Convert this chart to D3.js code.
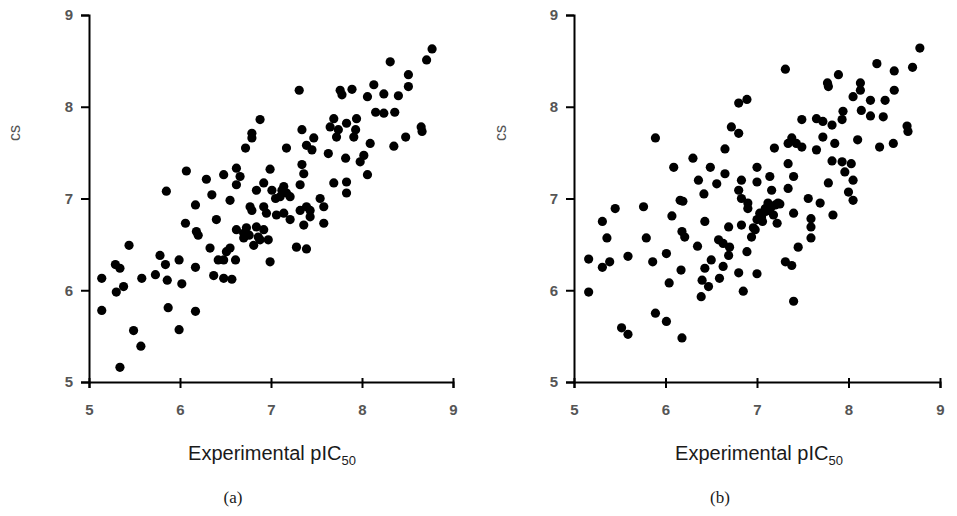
<!DOCTYPE html>
<html><head><meta charset="utf-8">
<script src="https://cdn.jsdelivr.net/npm/d3@7"></script>
<style>body{margin:0;background:#fff}svg{display:block}</style>
</head><body><svg id="c" width="957" height="516"></svg>
<script>
const tickValues = [5, 6, 7, 8, 9];
const xTitle = "Experimental pIC";
const xTitleSub = "50";
const yTitle = "cs";
const panelLabels = ["(a)", "(b)"];

const aX = [8.77,8.71,8.31,8.51,8.51,7.31,7.76,7.78,7.89,8.13,8.06,8.24,8.40,8.15,8.24,8.36,6.88,6.79,6.79,6.72,7.17,7.34,7.39,7.47,7.45,7.63,7.69,7.65,7.74,7.72,7.83,7.94,7.93,7.91,7.82,8.09,8.02,7.98,8.06,8.35,8.48,8.65,8.66,6.07,6.29,6.48,6.62,6.66,6.99,7.34,7.36,5.85,6.35,6.55,6.62,6.84,6.92,7.14,7.17,7.32,7.69,7.83,7.83,7.54,6.17,7.21,6.77,6.92,7.39,7.10,7.05,7.01,7.12,
6.40,6.06,6.18,6.20,6.79,6.95,7.06,7.14,7.21,7.43,7.58,7.58,7.36,7.43,6.62,6.73,6.84,6.92,6.70,6.81,6.88,6.97,6.55,6.51,6.33,6.42,6.48,6.61,6.99,7.28,7.39,6.37,6.48,6.57,5.14,5.29,5.34,5.44,5.30,5.38,5.58,5.73,5.78,5.84,5.86,5.99,6.17,6.02,5.14,5.87,6.17,5.49,5.99,5.57,5.34,7.32,6.70,6.76,6.86];
const aY = [8.63,8.51,8.49,8.35,8.22,8.18,8.18,8.13,8.19,8.24,8.11,8.14,8.12,7.94,7.93,7.94,7.86,7.71,7.66,7.55,7.55,7.75,7.58,7.66,7.53,7.49,7.87,7.78,7.75,7.67,7.82,7.87,7.75,7.67,7.44,7.60,7.47,7.40,7.26,7.57,7.67,7.78,7.73,7.30,7.21,7.26,7.33,7.24,7.32,7.37,7.27,7.08,7.04,6.98,7.15,7.09,7.17,7.13,7.06,7.15,7.17,7.18,7.06,7.00,6.93,7.02,6.91,6.91,6.91,7.02,7.00,7.09,7.09,
6.77,6.73,6.64,6.60,6.87,6.84,6.82,6.84,6.77,6.87,6.91,6.73,6.71,6.80,6.66,6.68,6.69,6.66,6.57,6.49,6.55,6.55,6.46,6.42,6.46,6.33,6.33,6.33,6.31,6.47,6.45,6.16,6.13,6.12,6.13,6.28,6.24,6.49,5.98,6.04,6.13,6.17,6.38,6.28,6.11,6.33,6.25,6.07,5.78,5.81,5.77,5.56,5.57,5.39,5.16,6.87,6.62,6.60,6.58];

const bX = [8.78,8.31,8.50,8.70,7.31,7.89,7.77,7.78,8.13,8.13,8.50,8.05,8.24,8.40,6.80,6.89,7.94,8.14,8.24,8.38,7.49,7.65,7.72,7.82,7.93,6.72,6.80,5.89,8.64,8.65,8.49,8.34,8.10,7.85,7.72,7.65,7.38,7.43,7.49,7.34,7.19,6.65,6.30,6.09,6.49,6.65,6.36,6.56,7.00,7.34,7.14,7.40,7.16,7.34,6.83,7.00,6.80,6.83,6.90,7.12,7.23,7.78,7.82,7.93,8.03,7.96,8.05,8.00,8.05,7.56,7.69,6.16,6.42,5.76,5.45,
5.16,5.16,5.31,5.36,5.31,5.39,5.59,5.79,5.86,5.89,6.01,6.04,6.01,5.52,5.59,6.18,6.17,6.07,6.19,6.18,6.21,6.35,6.43,6.43,6.50,6.40,6.47,6.39,6.59,6.63,6.58,6.63,6.70,6.69,6.69,6.80,6.85,6.89,6.83,7.00,6.94,6.96,7.00,7.03,7.09,7.20,7.25,7.22,6.90,7.40,7.31,7.38,7.40,7.45,7.59,7.59,7.59,7.83,6.98,7.05,7.10,7.15,7.18,7.06];
const bY = [8.64,8.47,8.39,8.43,8.41,8.35,8.26,8.22,8.26,8.18,8.18,8.11,8.07,8.07,8.04,8.08,7.95,7.96,7.90,7.89,7.86,7.87,7.84,7.80,7.86,7.78,7.71,7.66,7.79,7.73,7.60,7.56,7.64,7.60,7.67,7.53,7.66,7.60,7.56,7.60,7.55,7.54,7.44,7.34,7.34,7.27,7.20,7.16,7.34,7.38,7.24,7.24,7.09,7.11,7.20,7.18,7.09,7.00,6.95,6.95,6.95,7.17,7.41,7.40,7.38,7.29,7.20,7.07,6.98,7.00,6.95,6.98,7.05,6.91,6.89,
6.34,5.98,6.75,6.57,6.25,6.31,6.37,6.57,6.31,5.75,6.40,6.08,5.66,5.59,5.52,5.48,6.22,6.81,6.97,6.64,6.58,6.48,6.75,6.24,6.33,6.11,6.04,5.93,6.13,6.26,6.55,6.51,6.47,6.38,6.69,6.19,5.99,6.42,6.71,6.18,6.58,6.68,6.77,6.84,6.89,6.93,6.94,6.73,6.89,6.84,6.31,6.27,5.88,6.47,6.78,6.69,6.57,6.82,6.66,6.80,6.86,6.90,6.82,6.75];

const svg = d3.select("#c");
const panels = [
  {xs: aX, ys: aY, x0: 89, x1: 453, label: panelLabels[0], titleX: 272, labelX: 233, yLabX: 14},
  {xs: bX, ys: bY, x0: 574, x1: 940, label: panelLabels[1], titleX: 759, labelX: 720, yLabX: 500}
];
const yTop = 15, yBot = 382;
const sans = "Liberation Sans, Arial, sans-serif";

panels.forEach(p => {
  const x = d3.scaleLinear().domain([5, 9]).range([p.x0, p.x1]);
  const y = d3.scaleLinear().domain([5, 9]).range([yBot, yTop]);
  const g = svg.append("g");

  g.append("g").selectAll("circle").data(d3.range(p.xs.length)).join("circle")
    .attr("cx", i => x(p.xs[i])).attr("cy", i => y(p.ys[i]))
    .attr("r", 4.6).attr("fill", "#000");

  const xa = g.append("g").attr("transform", `translate(0,${yBot})`)
    .call(d3.axisBottom(x).tickValues(tickValues).tickFormat(d3.format("d")).tickSizeOuter(0).tickSize(6).tickPadding(16));
  xa.select(".domain").attr("stroke", "#000").attr("stroke-width", 2);
  xa.selectAll(".tick line").attr("stroke", "#000").attr("stroke-width", 2).attr("y1", -4).attr("y2", 6);
  xa.selectAll(".tick text").attr("fill", "#555").attr("font-size", 15).attr("font-family", sans).attr("font-weight", "bold");

  const ya = g.append("g").attr("transform", `translate(${p.x0},0)`)
    .call(d3.axisLeft(y).tickValues(tickValues).tickFormat(d3.format("d")).tickSizeOuter(0).tickSize(8).tickPadding(8));
  ya.select(".domain").attr("stroke", "#000").attr("stroke-width", 2);
  ya.selectAll(".tick line").attr("stroke", "#000").attr("stroke-width", 2);
  ya.selectAll(".tick text").attr("fill", "#555").attr("font-size", 15).attr("font-family", sans).attr("font-weight", "bold");

  const t = g.append("text").attr("x", p.titleX).attr("y", 460).attr("text-anchor", "middle")
    .attr("font-family", sans).attr("font-size", 20).attr("fill", "#1a1a1a");
  t.append("tspan").text(xTitle);
  t.append("tspan").attr("font-size", 13).attr("dy", 5).text(xTitleSub);

  g.append("text").attr("x", p.labelX).attr("y", 503).attr("text-anchor", "middle")
    .attr("font-family", "Liberation Serif, Times New Roman, serif").attr("font-size", 17).attr("fill", "#1a1a1a").text(p.label);

  g.append("text").attr("transform", `translate(${p.yLabX},133) rotate(-90)`).attr("text-anchor", "middle")
    .attr("dominant-baseline", "central")
    .attr("font-family", sans).attr("font-size", 16).attr("fill", "#555").text(yTitle);
});
</script></body></html>
